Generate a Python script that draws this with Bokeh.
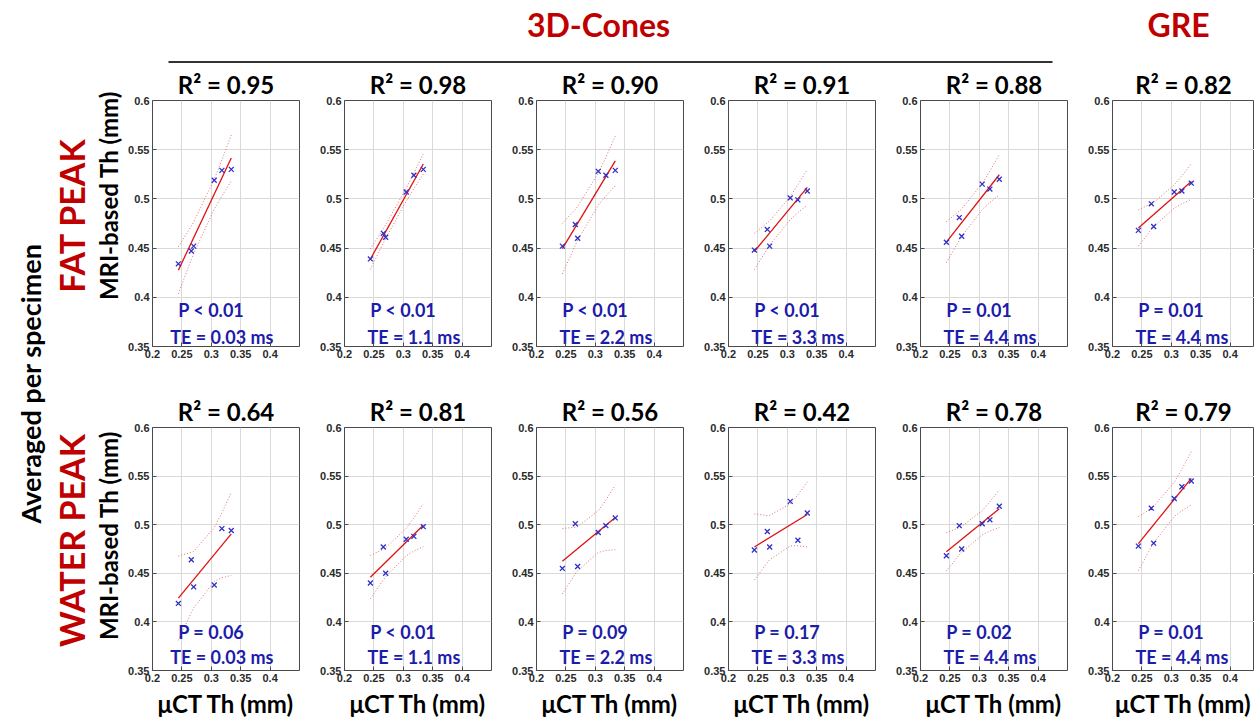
import numpy as np
from bokeh.plotting import figure
from bokeh.models import Range1d, FixedTicker, PrintfTickFormatter
from bokeh.layouts import row, column
from bokeh.core.properties import value
from bokeh.embed import file_html
from bokeh.resources import INLINE

# ---------------- data ----------------
ct_th = [0.244, 0.266, 0.270, 0.305, 0.318, 0.334]          # µCT Th (mm)

# FAT PEAK, averaged per specimen, MRI-based Th (mm)
fat_te003 = [0.434, 0.447, 0.452, 0.519, 0.529, 0.530]
fat_te11 = [0.439, 0.465, 0.461, 0.507, 0.524, 0.530]
fat_te22 = [0.452, 0.474, 0.460, 0.528, 0.524, 0.529]
fat_te33 = [0.448, 0.469, 0.452, 0.501, 0.499, 0.508]
fat_te44 = [0.456, 0.481, 0.462, 0.515, 0.510, 0.520]
fat_gre44 = [0.468, 0.495, 0.472, 0.507, 0.508, 0.516]

# WATER PEAK
water_te003 = [0.419, 0.464, 0.436, 0.438, 0.496, 0.494]
water_te11 = [0.440, 0.477, 0.450, 0.485, 0.488, 0.498]
water_te22 = [0.455, 0.501, 0.457, 0.492, 0.499, 0.507]
water_te33 = [0.474, 0.493, 0.477, 0.524, 0.484, 0.512]
water_te44 = [0.468, 0.499, 0.475, 0.501, 0.505, 0.519]
water_gre44 = [0.478, 0.517, 0.481, 0.527, 0.539, 0.545]

fat_r2 = ["0.95", "0.98", "0.90", "0.91", "0.88", "0.82"]
water_r2 = ["0.64", "0.81", "0.56", "0.42", "0.78", "0.79"]
fat_p = ["P < 0.01", "P < 0.01", "P < 0.01", "P < 0.01", "P = 0.01", "P = 0.01"]
water_p = ["P = 0.06", "P < 0.01", "P = 0.09", "P = 0.17", "P = 0.02", "P = 0.01"]
te_labels = ["TE = 0.03 ms", "TE = 1.1 ms", "TE = 2.2 ms", "TE = 3.3 ms", "TE = 4.4 ms", "TE = 4.4 ms"]

x_ticks = [0.2, 0.25, 0.3, 0.35, 0.4]
y_ticks = [0.35, 0.4, 0.45, 0.5, 0.55, 0.6]

T_CRIT = 2.776  # Student t, 95 %, 4 degrees of freedom

# ---------------- styling ----------------
FONT = "Lato"
TICK_FONT = "Liberation Sans"
DARK_RED = "#c00000"
BLUE_TEXT = "#1c1cab"
MARK_BLUE = "#3030c8"
LINE_RED = "#e01010"
BAND_RED = "#e07070"
FRAME = "#4a4a4a"

LEFT_W = 124
PITCH = 192
FRAME_W = 147
TOTAL_W = 1254
HEADER_H = 63
P1_W = 28 + FRAME_W + 5


def make_panel(ys, r2, ptxt, tetxt, col, row_idx):
    first = col == 0
    last = col == 5
    left = 28 if first else 40
    right = 0 if last else 5
    if last:
        fw = TOTAL_W - (LEFT_W + P1_W + 4 * PITCH) - left
    else:
        fw = FRAME_W
    width = left + fw + right
    x_end = 0.2 + fw / FRAME_W * 0.25
    if row_idx == 0:
        top, fh, bottom = 37, 246, 27
    else:
        top, fh, bottom = 54, 245, 48
    p = figure(width=width, height=top + fh + bottom,
               x_range=Range1d(0.2, x_end), y_range=Range1d(0.35, 0.6),
               output_backend="svg", toolbar_location=None,
               min_border_left=left, min_border_right=right,
               min_border_top=top, min_border_bottom=bottom,
               background_fill_color="white", border_fill_color="white")
    p.outline_line_color = FRAME
    p.outline_line_width = 1

    p.title.text = "R\u00b2 = " + r2
    p.title.align = "center"
    p.title.text_font = FONT
    p.title.text_font_size = "24px"
    p.title.text_font_style = "bold"
    p.title.text_color = "black"
    p.title.standoff = 4

    p.xaxis.ticker = FixedTicker(ticks=x_ticks)
    p.yaxis.ticker = FixedTicker(ticks=y_ticks)
    for ax in (p.xaxis[0], p.yaxis[0]):
        ax.formatter = PrintfTickFormatter(format="%g")
        ax.axis_line_color = None
        ax.major_tick_in = 4
        ax.major_tick_out = 0
        ax.major_tick_line_color = FRAME
        ax.minor_tick_line_color = None
        ax.major_label_text_font = TICK_FONT
        ax.major_label_text_font_size = "11px"
        ax.major_label_text_font_style = "bold"
        ax.major_label_text_color = "#2a2a2a"
        ax.major_label_standoff = 3
    p.xgrid.grid_line_color = "#d9d9d9"
    p.ygrid.grid_line_color = "#d9d9d9"

    if row_idx == 1:
        p.xaxis.axis_label = "\u03bcCT Th (mm)"
        p.xaxis.axis_label_text_font = FONT
        p.xaxis.axis_label_text_font_size = "24px"
        p.xaxis.axis_label_text_font_style = "bold"
        p.xaxis.axis_label_text_color = "black"
        p.xaxis.axis_label_standoff = 4

    # regression with 95 % confidence band evaluated at the specimens
    x = np.array(ct_th)
    y = np.array(ys)
    slope, icpt = np.polyfit(x, y, 1)
    fit = slope * x + icpt
    n = len(x)
    s = np.sqrt(np.sum((y - fit) ** 2) / (n - 2))
    sxx = np.sum((x - x.mean()) ** 2)
    hw = T_CRIT * s * np.sqrt(1.0 / n + (x - x.mean()) ** 2 / sxx)

    p.line(x, fit + hw, line_color=BAND_RED, line_width=1, line_dash="1 2")
    p.line(x, fit - hw, line_color=BAND_RED, line_width=1, line_dash="1 2")
    p.line([x.min(), x.max()], [slope * x.min() + icpt, slope * x.max() + icpt],
           line_color=LINE_RED, line_width=1.3)
    p.scatter(x, y, marker="x", size=7, line_color=MARK_BLUE, line_width=1.3)

    py, ty = (0.387, 0.360) if row_idx == 0 else (0.390, 0.364)
    p.text(x=[0.300], y=[py], text=[ptxt], text_font=value(FONT),
           text_font_size="18px", text_font_style="bold", text_color=BLUE_TEXT,
           text_align="center", text_baseline="middle")
    p.text(x=[0.318], y=[ty], text=[tetxt], text_font=value(FONT),
           text_font_size="18px", text_font_style="bold", text_color=BLUE_TEXT,
           text_align="center", text_baseline="middle")
    return p


fat_rows = [fat_te003, fat_te11, fat_te22, fat_te33, fat_te44, fat_gre44]
water_rows = [water_te003, water_te11, water_te22, water_te33, water_te44, water_gre44]

row1 = [make_panel(fat_rows[i], fat_r2[i], fat_p[i], te_labels[i], i, 0) for i in range(6)]
row2 = [make_panel(water_rows[i], water_r2[i], water_p[i], te_labels[i], i, 1) for i in range(6)]

H1 = row1[0].height
H2 = row2[0].height
TOTAL_H = HEADER_H + H1 + H2


def deco_fig(w, h):
    f = figure(width=w, height=h, x_range=Range1d(0, w), y_range=Range1d(h, 0),
               output_backend="svg", toolbar_location=None,
               x_axis_location=None, y_axis_location=None,
               min_border=0, min_border_left=0, min_border_right=0,
               min_border_top=0, min_border_bottom=0,
               background_fill_color="white", border_fill_color="white")
    f.outline_line_color = None
    f.xgrid.visible = False
    f.ygrid.visible = False
    return f


# left labels (page pixel coordinates)
left = deco_fig(LEFT_W, TOTAL_H)
left.text(x=[30], y=[383], text=["Averaged per specimen"], angle=np.pi / 2,
          text_font=value(FONT), text_font_size="27px", text_font_style="bold",
          text_color="black", text_align="center", text_baseline="middle")
left.text(x=[71, 71], y=[215, 540], text=["FAT PEAK", "WATER PEAK"], angle=np.pi / 2,
          text_font=value(FONT), text_font_size="34px", text_font_style="bold",
          text_color=DARK_RED, text_align="center", text_baseline="middle")
left.text(x=[108, 108], y=[195, 535], text=["MRI-based Th (mm)", "MRI-based Th (mm)"],
          angle=np.pi / 2, text_font=value(FONT), text_font_size="24px",
          text_font_style="bold", text_color="black",
          text_align="center", text_baseline="middle")

# header with group titles
HW = TOTAL_W - LEFT_W
header = deco_fig(HW, HEADER_H)
header.text(x=[598 - LEFT_W, 1178 - LEFT_W], y=[24, 24], text=["3D-Cones", "GRE"],
            text_font=value(FONT), text_font_size="32px", text_font_style="bold",
            text_color=DARK_RED, text_align="center", text_baseline="middle")
header.segment(x0=[168 - LEFT_W], y0=[61.5], x1=[1052 - LEFT_W], y1=[61.5],
               line_color="#333333", line_width=2)

layout = row(left, column(header, row(*row1), row(*row2)))

open("out.html", "w").write(file_html(layout, INLINE))
